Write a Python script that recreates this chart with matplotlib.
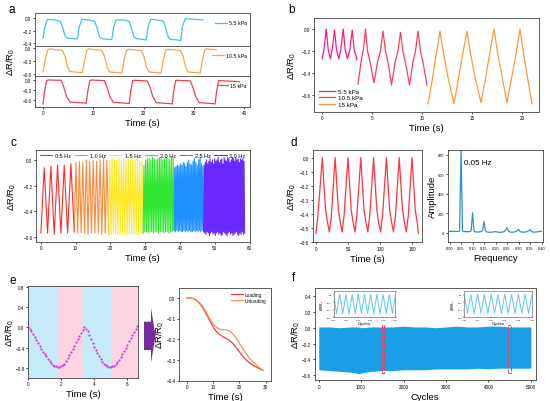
import numpy as np
import matplotlib
matplotlib.use("Agg")
import matplotlib.pyplot as plt
from matplotlib.patches import Rectangle, Polygon

plt.rcParams['font.family'] = ['Liberation Sans', 'DejaVu Sans']
plt.rcParams['mathtext.default'] = 'regular'

# ---------------- data ----------------
# a: step response at three pressures
a1_t = [0.0, 0.35, 0.9, 2.2, 3.4, 3.9, 4.4, 4.9, 6.2,
        6.85, 7.2, 7.75, 9.0, 10.25, 10.75, 11.25, 11.75, 13.0,
        13.7, 14.05, 14.6, 15.9, 17.1, 17.6, 18.1, 18.6, 19.9,
        20.55, 20.9, 21.45, 22.7, 23.95, 24.45, 24.95, 25.45, 26.8,
        27.4, 27.75, 28.3, 30.0, 31.8]
a1_v = [-0.32, -0.15, -0.02, -0.03, -0.05, -0.15, -0.29, -0.32, -0.33,
        -0.33, -0.14, -0.02, -0.03, -0.05, -0.16, -0.3, -0.33, -0.34,
        -0.34, -0.14, -0.03, -0.03, -0.05, -0.16, -0.3, -0.33, -0.34,
        -0.35, -0.14, -0.02, -0.03, -0.05, -0.17, -0.31, -0.34, -0.35,
        -0.36, -0.14, -0.01, -0.02, -0.03]
a2_t = [0.0, 0.4, 0.9, 1.3, 3.9, 4.4, 4.9, 5.4, 7.4,
        7.85, 8.25, 8.75, 9.15, 11.75, 12.25, 12.75, 13.25, 15.25,
        15.7, 16.1, 16.6, 17.0, 19.6, 20.1, 20.6, 21.1, 23.1,
        23.5, 23.9, 24.4, 24.8, 27.4, 27.9, 28.4, 28.9, 30.9,
        31.3, 31.7, 32.2, 32.6, 34.5]
a2_v = [-0.55, -0.3, -0.05, -0.02, -0.06, -0.2, -0.45, -0.55, -0.57,
        -0.57, -0.3, -0.05, -0.02, -0.06, -0.2, -0.45, -0.56, -0.58,
        -0.58, -0.3, -0.05, -0.03, -0.06, -0.2, -0.45, -0.56, -0.58,
        -0.58, -0.3, -0.05, -0.03, -0.06, -0.2, -0.45, -0.56, -0.58,
        -0.58, -0.3, -0.04, -0.02, -0.04]
a3_t = [0.0, 0.3, 0.7, 1.0, 3.6, 4.1, 4.7, 5.4, 8.2,
        8.6, 8.9, 9.3, 9.6, 12.2, 12.7, 13.3, 14.0, 16.8,
        17.15, 17.45, 17.85, 18.15, 20.75, 21.25, 21.85, 22.55, 25.35,
        25.7, 26.0, 26.4, 26.7, 29.3, 29.8, 30.4, 31.1, 33.9,
        34.25, 34.55, 34.95, 35.3, 39.1]
a3_v = [-0.72, -0.35, -0.02, 0.0, -0.01, -0.2, -0.5, -0.66, -0.69,
        -0.7, -0.35, -0.02, 0.0, -0.02, -0.2, -0.5, -0.67, -0.7,
        -0.71, -0.35, -0.02, -0.01, -0.03, -0.2, -0.5, -0.68, -0.71,
        -0.72, -0.35, -0.02, -0.01, -0.03, -0.21, -0.5, -0.68, -0.71,
        -0.72, -0.35, -0.02, -0.02, -0.05]
a_labels = ['5.5 kPa', '10.5 kPa', '15 kPa']

# b: dynamic loading
b1_t = [0.0, 0.2, 0.42, 0.62, 0.84, 1.02, 1.25, 1.45, 1.68, 1.88, 2.12, 2.32,
        2.55, 2.78, 3.02, 3.22, 3.5]
b1_v = [-0.27, -0.19, 0.0, -0.19, -0.27, -0.19, -0.01, -0.19, -0.27, -0.19, 0.0,
        -0.19, -0.27, -0.19, -0.01, -0.19, -0.28]
b2_t = [3.6, 3.95, 4.15, 4.35, 4.55, 4.85, 5.2, 5.55, 5.85, 6.1, 6.35, 6.65, 6.95,
        7.3, 7.6, 7.85, 8.1, 8.4, 8.75, 9.1, 9.35, 9.6, 9.85, 10.15, 10.5]
b2_v = [-0.5, -0.27, -0.18, 0.0, -0.2, -0.32, -0.49, -0.3, -0.2, -0.02, -0.2, -0.33,
        -0.51, -0.31, -0.2, -0.03, -0.21, -0.33, -0.51, -0.3, -0.2, -0.02, -0.2,
        -0.33, -0.51]
b3_t = [10.6, 11.05, 11.4, 11.8, 12.15, 12.6, 13.2, 13.65, 14.05, 14.5, 14.85, 15.3,
        15.9, 16.35, 16.75, 17.2, 17.55, 18.0, 18.5, 18.95, 19.4, 19.8, 20.15, 20.55,
        21.0]
b3_v = [-0.68, -0.45, -0.24, -0.02, -0.22, -0.44, -0.68, -0.45, -0.24, -0.02, -0.22,
        -0.44, -0.67, -0.45, -0.23, 0.0, -0.21, -0.43, -0.67, -0.45, -0.23, 0.0,
        -0.22, -0.44, -0.68]

# c: frequency response
c_labels = ['0.5 Hz', '1.0 Hz', '1.5 Hz', '2.0 Hz', '2.5 Hz', '3.0 Hz']
c_bounds = [0.0, 9.6, 19.5, 29.4, 38.3, 46.8, 58.6]
c_peaks = [
    [-0.06, -0.05, -0.04, -0.04, -0.03],
    [-0.02, -0.01, -0.02, 0.0, -0.01, 0.0, -0.01, 0.0, 0.01, 0.0],
    [0.0, 0.01, 0.0, 0.0, 0.01, 0.0, 0.01, 0.0, 0.0, 0.01, 0.0, 0.0, 0.01, 0.0, -0.01],
    [-0.04, 0.0, 0.01, 0.01, 0.0, 0.02, 0.01, 0.0, 0.01, 0.02, 0.01, 0.0, 0.01, 0.02,
     0.01, 0.0, 0.02, 0.01],
    [-0.06, -0.05, -0.04, -0.05, -0.03, -0.04, -0.02, -0.03, -0.05, -0.02, 0.0, -0.03,
     -0.04, -0.01, 0.01, -0.02, -0.04, 0.0, 0.02, -0.03, -0.05],
    [-0.04, -0.02, 0.0, -0.03, -0.01, 0.01, -0.02, 0.0, -0.03, 0.01, -0.01, 0.0, 0.02,
     -0.02, 0.0, 0.01, -0.03, 0.02, 0.0, -0.01, 0.02, 0.01, -0.02, 0.0, 0.02, 0.01,
     -0.01, 0.02, 0.0, 0.01, -0.02, 0.01, 0.0, 0.01, -0.01],
]
c_troughs = [
    [-0.57, -0.57, -0.58, -0.57, -0.57, -0.56],
    [-0.56, -0.57, -0.57, -0.57, -0.58, -0.57, -0.57, -0.57, -0.58, -0.57, -0.58],
    [-0.58, -0.58, -0.57, -0.58, -0.58, -0.58, -0.57, -0.58, -0.58, -0.58, -0.57,
     -0.58, -0.58, -0.58, -0.57, -0.57],
    [-0.57, -0.56, -0.56, -0.57, -0.56, -0.56, -0.57, -0.56, -0.56, -0.57, -0.56,
     -0.56, -0.57, -0.56, -0.56, -0.57, -0.56, -0.56, -0.55],
    [-0.55, -0.56, -0.55, -0.56, -0.55, -0.56, -0.56, -0.55, -0.56, -0.55, -0.56,
     -0.55, -0.56, -0.56, -0.55, -0.56, -0.55, -0.56, -0.55, -0.56, -0.55, -0.56],
    [-0.56, -0.57, -0.58, -0.56, -0.57, -0.59, -0.57, -0.56, -0.58, -0.57, -0.59,
     -0.57, -0.56, -0.58, -0.57, -0.59, -0.58, -0.56, -0.57, -0.58, -0.59, -0.57,
     -0.56, -0.58, -0.57, -0.59, -0.58, -0.57, -0.56, -0.58, -0.59, -0.57, -0.58,
     -0.56, -0.58, -0.57],
]
c_colors = ['#ff2a2a', '#ff8a3a', '#ffe82a', '#33e633', '#1e90ff', '#6a2aff']

# d: slow cycling and its spectrum
d_t = [0, 3, 10, 15, 18, 21, 24, 30, 35, 38, 41, 44, 50, 55, 58, 61, 64, 70,
       75, 78, 81, 84, 90, 95, 98, 101, 104, 110, 115, 118, 121, 124, 130,
       135, 138, 141, 144, 150, 155, 158, 160]
d_v = [-0.54, -0.42, 0.0, -0.37, -0.46, -0.53, -0.42, 0.0, -0.37, -0.46, -0.53,
       -0.41, 0.0, -0.37, -0.46, -0.53, -0.41, 0.0, -0.37, -0.46, -0.53, -0.41, 0.0,
       -0.37, -0.47, -0.53, -0.41, 0.0, -0.37, -0.46, -0.53, -0.42, 0.0, -0.37, -0.46,
       -0.53, -0.42, 0.0, -0.37, -0.46, -0.54]
fft_step = 0.00625
fft_amp = [15, 18, 17, 16, 16, 15, 16, 20, 840, 20, 15, 14, 14, 13, 14, 20, 205, 18,
           12, 10, 10, 12, 14, 30, 115, 25, 10, 8, 8, 8, 10, 12, 14, 10, 8, 7, 8, 10,
           15, 30, 55, 20, 10, 8, 8, 10, 14, 22, 36, 15, 10, 9, 9, 11, 14, 22, 35, 15,
           10, 9, 10, 12, 14, 16, 20]

# e: single press and loading/unloading
e_step = 0.1
e_v = [0.00, -0.03, -0.07, -0.12, -0.18, -0.25, -0.31, -0.37, -0.43, -0.49, -0.53,
       -0.57, -0.62, -0.67, -0.71, -0.74, -0.76, -0.77, -0.78,
       -0.78, -0.77, -0.75, -0.72, -0.67, -0.61, -0.55, -0.49, -0.42, -0.36, -0.29,
       -0.23, -0.17, -0.11, -0.05, 0.00,
       -0.03, -0.08, -0.15, -0.22, -0.30, -0.38, -0.45, -0.51, -0.57, -0.63, -0.68,
       -0.72, -0.75, -0.77, -0.78, -0.78,
       -0.77, -0.76, -0.73, -0.69, -0.64, -0.58, -0.52, -0.46, -0.40, -0.34, -0.27,
       -0.21, -0.15, -0.09, -0.03, 0.02]
e_spans = [0.0, 1.8, 3.4, 5.0, 6.65]
e_load = [0.0, 0.0, -0.002, -0.007, -0.016, -0.03, -0.048, -0.07, -0.093, -0.118,
          -0.14, -0.16, -0.173, -0.182, -0.19, -0.197, -0.205, -0.215, -0.228, -0.245,
          -0.262, -0.278, -0.293, -0.306, -0.316, -0.325, -0.332, -0.339, -0.345, -0.351]
e_unload = [0.0, 0.0, -0.002, -0.006, -0.014, -0.026, -0.042, -0.062, -0.085, -0.107,
            -0.126, -0.14, -0.149, -0.153, -0.154, -0.155, -0.159, -0.168, -0.182,
            -0.2, -0.22, -0.24, -0.26, -0.278, -0.294, -0.308, -0.32, -0.331, -0.341,
            -0.35]

# f: 5000-cycle durability
f_cyc = [0, 250, 500, 750, 950, 1000, 1250, 1500, 1750, 2000, 2250, 2500, 2750,
         3000, 3250, 3500, 3750, 4000, 4250, 4500, 4750, 5000]
f_upper = [0.01, 0.01, 0.0, 0.01, 0.01, 0.0, 0.01, 0.01, 0.01, 0.02, 0.01, 0.01, 0.0,
           0.01, 0.02, 0.01, 0.01, 0.02, 0.02, 0.01, 0.01, 0.01]
f_lower = [-0.53, -0.54, -0.55, -0.56, -0.58, -0.57, -0.55, -0.54, -0.54, -0.53, -0.53,
           -0.53, -0.52, -0.52, -0.52, -0.52, -0.51, -0.52, -0.51, -0.51, -0.51, -0.51]
f_boxes = [1480, 4460]
inset1_v = [0.0, -0.5, 0.01, -0.5, 0.0, -0.51, 0.0, -0.5, 0.01, -0.5, 0.0, -0.5, 0.0,
            -0.51, 0.01, -0.5, 0.0, -0.5, 0.0, -0.5, 0.01]
inset2_v = [0.01, -0.49, 0.0, -0.5, 0.01, -0.49, 0.0, -0.5, 0.01, -0.49, 0.0, -0.5,
            0.01, -0.49, 0.0, -0.5, 0.0, -0.49, 0.01, -0.5, 0.0]

# ---------------- figure ----------------
W, H = 550, 402
fig = plt.figure(figsize=(5.5, 4.02), dpi=100)


def px_axes(l, t, r, b):
    return fig.add_axes([l / W, 1 - b / H, (r - l) / W, (b - t) / H])


def style(ax, size=3.3):
    for s in ax.spines.values():
        s.set_linewidth(0.6)
        s.set_color('#444444')
    ax.tick_params(labelsize=size, length=1.5, width=0.5, pad=1, direction='out')


def ylab(ax, text, x_px, l, r):
    # place the y label so that its centre sits at x_px (figure pixels)
    ax.set_ylabel(text, fontsize=LAB)
    ax.yaxis.set_label_coords((x_px + 4.5 - l) / (r - l), 0.5)


LAB = 6.8
YL = r'$\Delta$R/R$_0$'

# ----- a -----
a_axes = [px_axes(35, 14, 250, 47.3), px_axes(35, 47.3, 250, 77.3), px_axes(35, 77.3, 250, 108)]
a_data = [(a1_t, a1_v, '#3fc4e8'), (a2_t, a2_v, '#f9a64a'), (a3_t, a3_v, '#f2404e')]
a_ylims = [(-0.45, 0.08), (-0.66, 0.04), (-0.81, 0.11)]
a_yt = [[0.0, -0.2, -0.4], [0.0, -0.3, -0.6], [0.0, -0.3, -0.6]]
for ax, (t, v, c), lab, yl, yt in zip(a_axes, a_data, a_labels, a_ylims, a_yt):
    ax.plot(t, v, color=c, lw=0.9, label=lab)
    ax.set_xlim(-1.6, 41.2)
    ax.set_ylim(*yl)
    ax.set_yticks(yt)
    style(ax)
    ax.legend(loc='center right', bbox_to_anchor=(1.0, 0.7), frameon=False, fontsize=3.8,
              handlelength=2.2, handletextpad=0.4, borderaxespad=0.2)
for ax in a_axes[:2]:
    ax.tick_params(bottom=False, labelbottom=False)
a_axes[2].set_xticks([0, 10, 20, 30, 40])
a_axes[2].set_xlabel('Time (s)', fontsize=LAB, labelpad=2)
ylab(a_axes[1], YL, 13, 35, 250)

# ----- b -----
axb = px_axes(314, 19, 539, 113)
axb.plot(b1_t, b1_v, color='#ff1a8c', lw=0.9, label='5.5 kPa')
axb.plot(b2_t, b2_v, color='#ff3d5e', lw=0.9, label='10.5 kPa')
axb.plot(b3_t, b3_v, color='#ff9a3a', lw=0.9, label='15 kPa')
axb.set_xlim(-0.8, 21.7)
axb.set_ylim(-0.755, 0.1)
axb.set_xticks([0, 5, 10, 15, 20])
axb.set_yticks([0.0, -0.2, -0.4, -0.6])
style(axb)
axb.set_xlabel('Time (s)', fontsize=LAB, labelpad=2)
ylab(axb, YL, 294, 314, 539)
axb.legend(loc='lower left', frameon=False, fontsize=4.5, handlelength=2.6,
           handletextpad=0.5, labelspacing=0.2, borderaxespad=0.4)

# ----- c -----
axc = px_axes(36, 151, 249.5, 243)
for i in range(6):
    pk = c_peaks[i]
    tr = c_troughs[i]
    tt = np.linspace(c_bounds[i], c_bounds[i + 1], 2 * len(pk) + 1)
    vv = np.empty(len(tt))
    vv[0::2] = tr
    vv[1::2] = pk
    axc.plot(tt, vv, color=c_colors[i], lw=0.8, label=c_labels[i])
axc.set_xlim(-1.4, 59)
axc.set_ylim(-0.64, 0.078)
axc.set_xticks([0, 10, 20, 30, 40, 50, 60])
axc.set_yticks([0.0, -0.2, -0.4, -0.6])
style(axc)
axc.set_xlabel('Time (s)', fontsize=LAB, labelpad=2)
ylab(axc, YL, 13, 36, 249.5)
axc.legend(loc='upper center', ncol=6, frameon=False, fontsize=4.0, handlelength=2.2,
           handletextpad=0.5, columnspacing=0.7, borderaxespad=0.15)

# ----- d -----
axd1 = px_axes(312.7, 150.7, 422.3, 243.3)
axd1.plot(d_t, d_v, color='#ff3344', lw=0.9)
axd1.set_xlim(-5, 166)
axd1.set_ylim(-0.604, 0.057)
axd1.set_xticks([0, 50, 100, 150])
axd1.set_yticks([0.0, -0.1, -0.2, -0.3, -0.4, -0.5, -0.6])
style(axd1)
axd1.set_xlabel('Time (s)', fontsize=LAB, labelpad=2)
ylab(axd1, YL, 294, 312.7, 422.3)

axd2 = px_axes(447.7, 150.7, 542.7, 243.3)
freq = np.arange(len(fft_amp)) * fft_step
axd2.plot(freq, fft_amp, color='#2a93cc', lw=0.9)
axd2.set_xlim(-0.008, 0.405)
axd2.set_ylim(-95, 850)
axd2.set_xticks(np.arange(0, 0.41, 0.05))
axd2.set_xticklabels(['%.2f' % x for x in np.arange(0, 0.41, 0.05)])
axd2.set_yticks([0, 200, 400, 600, 800])
style(axd2, 2.8)
axd2.set_xlabel('Frequency', fontsize=LAB, labelpad=2)
ylab(axd2, 'Amplitude', 432, 447.7, 542.7)
axd2.text(0.064, 700, '0.05 Hz', fontsize=5.8)

# ----- e -----
axe1 = px_axes(28, 287, 138, 379)
span_cols = ['#c6ebf8', '#fcd4e2', '#c6ebf8', '#fcd4e2']
for i in range(4):
    axe1.axvspan(e_spans[i], e_spans[i + 1], color=span_cols[i], lw=0)
e_t = np.arange(len(e_v)) * e_step
axe1.plot(e_t, e_v, 'o', color='#d23ad2', ms=1.6, mew=0)
axe1.set_xlim(0, 6.65)
axe1.set_ylim(-1.0, 0.82)
axe1.set_xticks([0, 2, 4, 6])
axe1.set_yticks([0.8, 0.4, 0.0, -0.4, -0.8])
style(axe1)
axe1.set_xlabel('Time (s)', fontsize=LAB, labelpad=2)
ylab(axe1, YL, 12, 28, 138)

axe2 = px_axes(179, 288.5, 271, 381.5)
e2_t = np.arange(len(e_load))
axe2.plot(e2_t, e_load, color='#ee3b3b', lw=0.9, label='Loading')
axe2.plot(e2_t, e_unload, color='#ff9060', lw=0.9, label='Unloading')
axe2.set_xlim(-3, 32)
axe2.set_ylim(-0.4, 0.05)
axe2.set_xticks([0, 10, 20, 30])
axe2.set_yticks([0.0, -0.1, -0.2, -0.3, -0.4])
style(axe2)
axe2.set_xlabel('Time (s)', fontsize=LAB, labelpad=2)
ylab(axe2, YL, 161, 179, 271)
axe2.legend(loc='upper right', frameon=False, fontsize=3.4, handlelength=2.4,
            handletextpad=0.5, labelspacing=0.2)

# purple arrow between e panels
arrow = [(144, 322.7), (151, 322.7), (151, 309), (155.5, 336.8), (151, 363.5),
         (151, 351), (144, 351)]
fig.patches.append(Polygon([(x / W, 1 - y / H) for x, y in arrow], closed=True,
                           transform=fig.transFigure, color='#7b2a9e', lw=0))

# ----- f -----
axf = px_axes(314.5, 288.7, 536, 381.3)
axf.fill_between(f_cyc, f_lower, f_upper, color='#1a9ee8', lw=0)
for x0 in f_boxes:
    axf.add_patch(Rectangle((x0, -0.57), 60, 0.6, fill=False, ls='--', ec='#ff3355', lw=0.7))
axf.set_xlim(-100, 5120)
axf.set_ylim(-0.663, 0.505)
axf.set_xticks([0, 1000, 2000, 3000, 4000, 5000])
axf.set_yticks([0.4, 0.2, 0.0, -0.2, -0.4, -0.6])
style(axf)
axf.set_xlabel('Cycles', fontsize=LAB, labelpad=2)
ylab(axf, YL, 297, 314.5, 536)

for (l, r), vals, c0 in [((333.5, 395.5), inset1_v, 1500), ((464, 532), inset2_v, 4500)]:
    axi = px_axes(l, 291.7, r, 318.3)
    xi = np.linspace(c0, c0 + 10, len(vals))
    axi.plot(xi, vals, color='#5cc8f0', lw=0.7)
    axi.set_xlim(c0, c0 + 10)
    axi.set_ylim(-0.6, 0.1)
    axi.set_xticks(np.arange(c0, c0 + 11, 2))
    axi.set_yticks([0.0, -0.2, -0.4, -0.6])
    for s in axi.spines.values():
        s.set_linewidth(0.4)
        s.set_color('#555555')
    axi.tick_params(labelsize=1.6, length=0.8, width=0.3, pad=0.5)
    axi.set_xlabel('Cycles', fontsize=3.2, labelpad=0.5)
    axi.set_ylabel(YL, fontsize=2.4, labelpad=0.5)

# panel letters
for s, x, y in [('a', 12, 10), ('b', 292, 10), ('c', 13, 143), ('d', 294, 143),
                ('e', 13, 281), ('f', 294, 278)]:
    fig.text(x / W, 1 - y / H, s, fontsize=8.5, ha='center', va='center')

fig.savefig('out.png', dpi=100)
